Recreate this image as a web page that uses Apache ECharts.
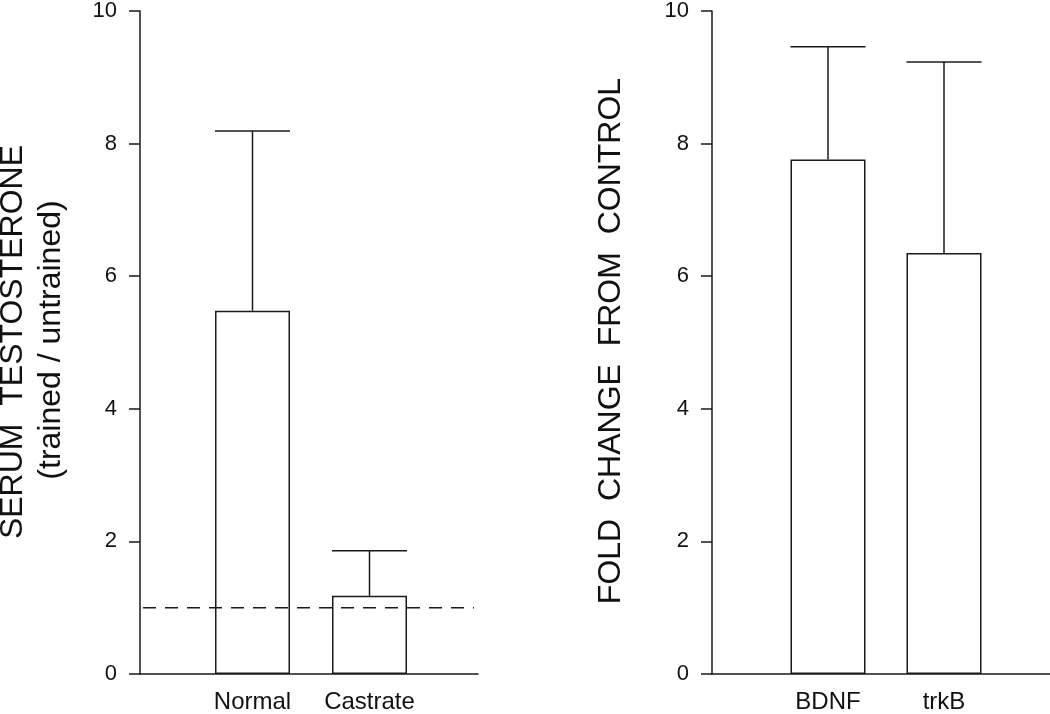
<!DOCTYPE html>
<html>
<head>
<meta charset="utf-8">
<script src="https://cdn.jsdelivr.net/npm/echarts@6/dist/echarts.min.js"></script>
<style>
  html, body { margin: 0; padding: 0; background: #fff; }
  #chart { width: 1050px; height: 714px; }
</style>
</head>
<body>
<div id="chart"></div>
<script>
// left panel: serum testosterone
var cats1 = ['', 'Normal', 'Castrate', ''];
var means1 = [null, 5.48, 1.18, null];
var upper1 = [null, 8.19, 1.86, null];
var refLine1 = 1.0;
// right panel: fold change
var cats2 = ['', 'BDNF', 'trkB', ''];
var means2 = [null, 7.76, 6.35, null];
var upper2 = [null, 9.46, 9.23, null];

var ink = '#1a1a1a';
var font = '"Liberation Sans", Arial, sans-serif';
var barW = 75;

function errData(means, upper) {
    var out = [];
    for (var i = 0; i < means.length; i++) {
        if (means[i] != null) out.push([i, means[i], upper[i]]);
    }
    return out;
}

function renderErr(params, api) {
    var top = api.coord([api.value(0), api.value(2)]);
    var base = api.coord([api.value(0), api.value(1)]);
    var half = barW / 2;
    var st = { stroke: ink, lineWidth: 1.5 };
    return {
        type: 'group',
        children: [
            { type: 'line', shape: { x1: base[0], y1: base[1], x2: top[0], y2: top[1] }, style: st },
            { type: 'line', shape: { x1: top[0] - half, y1: top[1], x2: top[0] + half, y2: top[1] }, style: st }
        ]
    };
}

// dashed reference line across the whole plot width
function renderRef(params, api) {
    var cs = params.coordSys;
    var y = api.coord([0, api.value(0)])[1];
    return {
        type: 'line',
        shape: { x1: cs.x + 3, y1: y, x2: cs.x + cs.width - 4, y2: y },
        style: { stroke: ink, lineWidth: 1.5, lineDash: [13, 9] }
    };
}

function xAxisOf(cats, idx, showLine, showLabel) {
    return {
        type: 'category', gridIndex: idx, data: cats, boundaryGap: false,
        axisLine: { show: showLine, lineStyle: { color: ink, width: 1.5 } },
        axisTick: { show: false },
        axisLabel: { show: showLabel, interval: 0, fontSize: 24, fontFamily: font, color: '#111', margin: 16 },
        splitLine: { show: false }
    };
}

function yAxisOf(idx, visible) {
    return {
        type: 'value', gridIndex: idx, min: 0, max: 10, interval: 2, show: visible,
        axisLine: { show: true, lineStyle: { color: ink, width: 1.5 } },
        axisTick: { show: true, length: 11, lineStyle: { color: ink, width: 1.5 } },
        axisLabel: { fontSize: 22, fontFamily: font, color: '#111', margin: 23 },
        splitLine: { show: false }
    };
}

var chart = echarts.init(document.getElementById('chart'));
chart.setOption({
    animation: false,
    grid: [
        // left bars
        { left: 135.5, top: 11, width: 351, height: 663, outerBoundsMode: 'none' },
        // left visible axes
        { left: 140, top: 11, width: 338, height: 663, outerBoundsMode: 'none' },
        // right
        { left: 712, top: 11, width: 348, height: 663, outerBoundsMode: 'none' }
    ],
    xAxis: [
        xAxisOf(cats1, 0, false, true),
        xAxisOf(cats1, 1, true, false),
        xAxisOf(cats2, 2, true, true)
    ],
    yAxis: [yAxisOf(0, false), yAxisOf(1, true), yAxisOf(2, true)],
    graphic: [
        { type: 'text', x: 13, y: 342, rotation: Math.PI / 2,
          style: { text: 'SERUM  TESTOSTERONE', font: '32px ' + font, fill: '#111', textAlign: 'center', textVerticalAlign: 'middle' } },
        { type: 'text', x: 51, y: 340, rotation: Math.PI / 2,
          style: { text: '(trained / untrained)', font: '32px ' + font, fill: '#111', textAlign: 'center', textVerticalAlign: 'middle' } },
        { type: 'text', x: 611, y: 341, rotation: Math.PI / 2,
          style: { text: 'FOLD  CHANGE  FROM  CONTROL', font: '32px ' + font, fill: '#111', textAlign: 'center', textVerticalAlign: 'middle' } }
    ],
    series: [
        {
            type: 'bar', xAxisIndex: 0, yAxisIndex: 0, data: means1, barWidth: barW,
            itemStyle: { color: '#fff', borderColor: ink, borderWidth: 1.5 }
        },
        {
            type: 'custom', xAxisIndex: 0, yAxisIndex: 0, data: errData(means1, upper1),
            renderItem: renderErr, z: 3
        },
        {
            type: 'custom', xAxisIndex: 1, yAxisIndex: 1, data: [[refLine1]],
            encode: { y: 0 }, renderItem: renderRef, z: 4
        },
        {
            type: 'bar', xAxisIndex: 2, yAxisIndex: 2, data: means2, barWidth: barW,
            itemStyle: { color: '#fff', borderColor: ink, borderWidth: 1.5 }
        },
        {
            type: 'custom', xAxisIndex: 2, yAxisIndex: 2, data: errData(means2, upper2),
            renderItem: renderErr, z: 3
        }
    ]
});
</script>
</body>
</html>
